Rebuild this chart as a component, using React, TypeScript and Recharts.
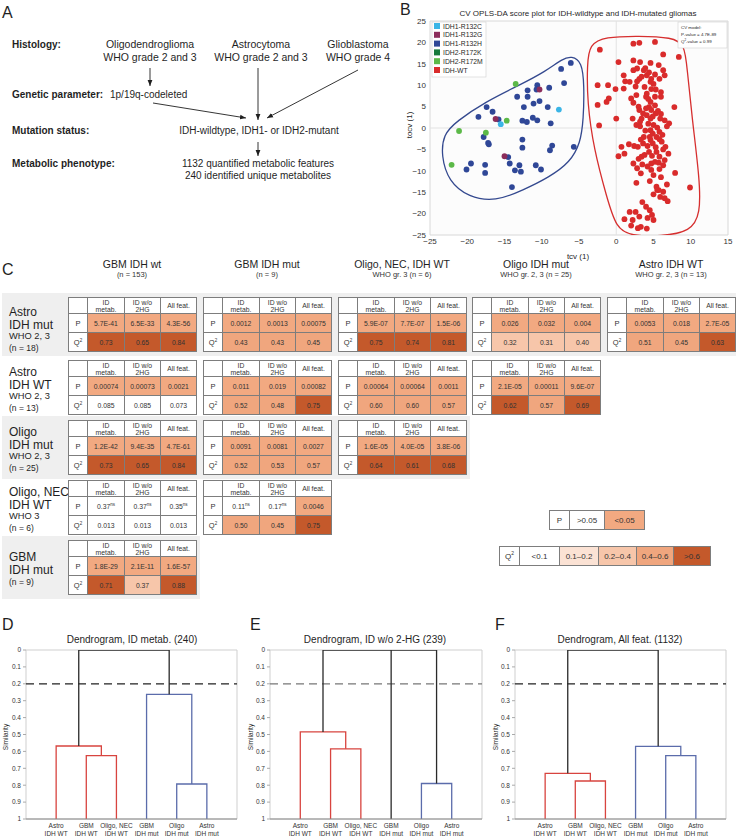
import React from 'react';
import { ComposedChart, Scatter, Line, XAxis, YAxis, ReferenceLine, ReferenceArea } from 'recharts';

const FONT = '"Liberation Sans", Arial, Helvetica, sans-serif';
const INK = '#1f1f1f';

// ---------------- Panel B: CV OPLS-DA scores ----------------
const idh1R132CPairs = [[-7.7, 4.3], [-15.5, 0.9]];
const idh1R132GPairs = [[-10.3, 9.0], [-16.2, 2.1], [-15.0, -6.6]];
const idh1R132HPairs = [
  [-6.1, 15.2], [-7.4, 13.8], [-7.0, 10.5], [-9.0, 9.4], [-10.6, 10.0], [-10.7, 9.0], [-11.9, 8.8],
  [-13.3, 7.3], [-11.9, 7.3], [-10.3, 6.3], [-11.1, 5.7], [-9.2, 4.9], [-12.4, 4.9], [-17.4, 4.9],
  [-18.5, 2.6], [-16.6, 3.8], [-15.8, 2.0], [-12.6, 1.7], [-12.0, 1.4], [-11.2, 2.4], [-10.6, 1.8],
  [-8.8, 1.1], [-17.8, -2.1], [-17.2, -3.5], [-17.1, -3.8], [-12.6, -2.7], [-12.6, -4.6], [-8.6, -4.1],
  [-8.9, -5.2], [-5.7, -4.4], [-14.5, -6.8], [-14.3, -8.3], [-13.0, -8.7], [-10.8, -8.7], [-10.1, -9.7],
  [-13.6, -9.9], [-12.8, -10.2], [-14.0, -13.8], [-19.5, -8.3], [-20.1, -9.7], [-17.6, -8.6], [-17.6, -10.5],
];
const idh2R172KPairs: number[][] = [];
const idh2R172MPairs = [[-13.5, 10.3], [-14.7, 1.7], [-21.1, -0.7], [-17.5, -1.1], [-22.1, -8.6]];
const idhWTPairs = [
  [-2.2, 18.3], [2.3, 19.7], [3.1, 19.9], [5.2, 20.1], [8.4, 16.6], [6.3, 17.2], [0.3, 15.4], [2.3, 15.8],
  [3.2, 15.4], [4.6, 15.2], [5.7, 14.7], [2.8, 13.9], [2.3, 13.5], [3.7, 13.5], [1.0, 12.3], [6.3, 13.5],
  [4.1, 12.3], [5.2, 12.5], [6.5, 12.3], [3.1, 11.5], [4.7, 11.5], [5.8, 11.5], [1.2, 10.9], [1.8, 10.8],
  [2.8, 10.9], [4.6, 10.8], [-2.5, 10.0], [-1.1, 10.0], [-0.1, 9.1], [4.7, 9.1], [1.0, 9.2], [4.1, 8.0],
  [6.0, 8.4], [4.0, 7.3], [2.7, 7.7], [2.0, 6.9], [5.2, 7.3], [6.0, 7.3], [-1.0, 6.9], [-1.3, 6.1],
  [-2.5, 5.4], [2.3, 5.9], [4.6, 6.1], [5.2, 5.3], [7.8, 4.9], [4.4, 4.9], [4.7, 4.2], [3.1, 4.2],
  [5.3, 3.4], [4.1, 3.0], [0.0, 2.2], [2.2, 2.2], [3.4, 2.2], [4.6, 2.2], [5.9, 2.2], [6.5, 1.8],
  [-2.3, 0.6], [2.7, 0.7], [3.2, 0.4], [5.0, 0.7], [7.1, 1.1], [6.8, 0.4], [4.6, -0.5], [5.8, -0.9],
  [3.7, -2.1], [4.5, -2.1], [5.4, -2.1], [4.6, -2.8], [4.9, -3.6], [6.1, -3.2], [6.6, -4.4], [3.6, -3.6],
  [1.7, -3.8], [2.4, -4.2], [2.9, -4.4], [0.7, -4.4], [1.1, -6.0], [0.3, -6.6], [3.4, -6.7], [3.8, -6.3],
  [4.4, -5.6], [5.4, -5.6], [5.8, -6.7], [7.0, -6.0], [2.3, -8.3], [3.5, -8.5], [4.7, -8.3], [5.2, -7.9],
  [5.7, -8.1], [6.3, -8.7], [2.8, -9.4], [4.7, -9.8], [7.9, -10.5], [2.7, -12.8], [5.0, -11.0], [5.4, -13.7],
  [5.7, -14.5], [6.3, -14.9], [9.9, -13.9], [5.9, -16.1], [6.5, -16.4], [6.9, -17.1], [4.0, -18.4], [4.5, -19.2],
  [1.8, -19.6], [2.6, -19.6], [3.1, -20.7], [2.2, -21.5], [4.8, -20.3], [5.0, -21.5], [1.1, -21.3], [2.9, -23.4],
  [3.3, -23.1], [4.1, -23.5], [5.5, -14.5],
  [3.9, 14.0], [4.4, 13.0], [3.4, 12.0], [5.0, 10.3], [2.6, 9.7], [3.8, 9.6], [5.3, 9.0], [4.3, 6.8],
  [3.0, 5.0], [4.0, 4.6], [5.6, 4.0], [3.6, 3.4], [4.9, 2.7], [6.0, 3.3], [3.2, 1.5], [4.3, 1.0],
  [5.5, 0.1], [3.9, -0.6], [4.9, -1.3], [6.2, -1.6], [3.3, -2.7], [5.8, -2.6], [4.2, -4.2], [5.3, -4.5],
  [6.3, -5.0], [4.8, -6.5], [3.0, -7.2], [6.5, -7.5], [4.2, -9.0], [5.8, -9.6], [3.3, -10.6], [6.0, -11.5],
  [4.5, -12.4], [6.8, -13.2], [5.0, -15.5], [3.5, -17.3], [4.2, -21.0], [2.0, -22.8],
];
const mutantHullPairs = [
  [-6.0, 16.8], [-4.6, 15.5], [-4.3, 10.0], [-4.4, 2.0], [-4.8, -3.5], [-6.2, -8.0], [-9.0, -11.5],
  [-12.5, -14.5], [-16.2, -17.2], [-19.8, -16.2], [-22.5, -12.5], [-23.5, -6.5], [-23.2, -1.5],
  [-21.5, 1.5], [-17.5, 6.2], [-13.0, 10.0], [-9.5, 13.2], [-7.2, 16.2],
];
const wildtypeHullPairs = [
  [-3.6, 19.5], [-1.5, 21.3], [3.0, 21.5], [7.5, 21.2], [9.2, 19.5], [9.5, 14.0], [10.2, 2.0],
  [11.2, -12.0], [11.3, -20.0], [10.0, -24.2], [6.0, -25.3], [2.0, -25.2], [0.0, -23.5], [-1.3, -16.0],
  [-3.0, -5.0], [-3.9, 6.0], [-3.9, 15.0],
];
const scoreTicksX = [-25, -20, -15, -10, -5, 0, 5, 10, 15];
const scoreTicksY = [-25, -20, -15, -10, -5, 0, 5, 10, 15, 20, 25];

const toPoints = (pairs: number[][]) => pairs.map(([x, y]) => ({ x, y }));

const scatterSeries = [
  { name: 'IDH1-R132C', color: '#3bb5e6', data: toPoints(idh1R132CPairs) },
  { name: 'IDH1-R132G', color: '#8c2d5b', data: toPoints(idh1R132GPairs) },
  { name: 'IDH1-R132H', color: '#2f4797', data: toPoints(idh1R132HPairs) },
  { name: 'IDH2-R172K', color: '#167a3b', data: toPoints(idh2R172KPairs) },
  { name: 'IDH2-R172M', color: '#5cb948', data: toPoints(idh2R172MPairs) },
  { name: 'IDH-WT', color: '#d92b2b', data: toPoints(idhWTPairs) },
];
const scatterDrawOrder = ['IDH-WT', 'IDH1-R132H', 'IDH2-R172K', 'IDH2-R172M', 'IDH1-R132G', 'IDH1-R132C'];

// ---------------- Panel C: pairwise model tables ----------------
const comparisonTitles = ['GBM IDH wt', 'GBM IDH mut', 'Oligo, NEC, IDH WT', 'Oligo IDH mut', 'Astro IDH WT'];
const comparisonSubtitles = ['(n = 153)', '(n = 9)', 'WHO gr. 3 (n = 6)', 'WHO gr. 2, 3 (n = 25)', 'WHO gr. 2, 3 (n = 13)'];
const rowGroupLabels = [
  ['Astro', 'IDH mut', 'WHO 2, 3', '(n = 18)'],
  ['Astro', 'IDH WT', 'WHO 2, 3', '(n = 13)'],
  ['Oligo', 'IDH mut', 'WHO 2, 3', '(n = 25)'],
  ['Oligo, NEC', 'IDH WT', 'WHO 3', '(n = 6)'],
  ['GBM', 'IDH mut', '(n = 9)'],
];
const featureSets = [['ID', 'metab.'], ['ID w/o', '2HG'], ['All feat.']];
const pValues = [
  [['5.7E-41', '6.5E-33', '4.3E-56'], ['0.0012', '0.0013', '0.00075'], ['5.9E-07', '7.7E-07', '1.5E-06'], ['0.026', '0.032', '0.004'], ['0.0053', '0.018', '2.7E-05']],
  [['0.00074', '0.00073', '0.0021'], ['0.011', '0.019', '0.00082'], ['0.00064', '0.00064', '0.0011'], ['2.1E-05', '0.00011', '9.6E-07']],
  [['1.2E-42', '9.4E-35', '4.7E-61'], ['0.0091', '0.0081', '0.0027'], ['1.6E-05', '4.0E-05', '3.8E-06']],
  [['0.37ns', '0.37ns', '0.35ns'], ['0.11ns', '0.17ns', '0.0046']],
  [['1.8E-29', '2.1E-11', '1.6E-57']],
];
const q2Values = [
  [['0.73', '0.65', '0.84'], ['0.43', '0.43', '0.45'], ['0.75', '0.74', '0.81'], ['0.32', '0.31', '0.40'], ['0.51', '0.45', '0.63']],
  [['0.085', '0.085', '0.073'], ['0.52', '0.48', '0.75'], ['0.60', '0.60', '0.57'], ['0.62', '0.57', '0.69']],
  [['0.73', '0.65', '0.84'], ['0.52', '0.53', '0.57'], ['0.64', '0.61', '0.68']],
  [['0.013', '0.013', '0.013'], ['0.50', '0.45', '0.75']],
  [['0.71', '0.37', '0.88']],
];
const pLegend = ['>0.05', '<0.05'];
const q2Legend = ['<0.1', '0.1\u20130.2', '0.2\u20130.4', '0.4\u20130.6', '>0.6'];

const P_SIG = '#f2a981';
const Q2_COLORS = ['#ffffff', '#fbe2d4', '#f7c6aa', '#f0a67e', '#c4592b'];
const pColor = (v: string) => (parseFloat(v) < 0.05 ? P_SIG : '#ffffff');
const q2Class = (v: number) => (v < 0.1 ? 0 : v < 0.2 ? 1 : v <= 0.4 ? 2 : v <= 0.6 ? 3 : 4);

// ---------------- Panels D-F: dendrograms ----------------
const leafLabels = [['Astro', 'IDH WT'], ['GBM', 'IDH WT'], ['Oligo, NEC', 'IDH WT'], ['GBM', 'IDH mut'], ['Oligo', 'IDH mut'], ['Astro', 'IDH mut']];
const leafTicks = [1, 2, 3, 4, 5, 6];
const similarityTicks = [0, 0.1, 0.2, 0.3, 0.4, 0.5, 0.6, 0.7, 0.8, 0.9, 1];
// merge: [leftX, leftSimilarity, rightX, rightSimilarity, mergeSimilarity, cluster]
const mergesIdMetab = [
  [2, 1, 3, 1, 0.625, 'wt'], [1, 1, 2.5, 0.625, 0.568, 'wt'],
  [5, 1, 6, 1, 0.793, 'mut'], [4, 1, 5.5, 0.793, 0.262, 'mut'],
  [1.75, 0.568, 4.75, 0.262, 0, 'root'],
];
const mergesNo2HG = [
  [2, 1, 3, 1, 0.585, 'wt'], [1, 1, 2.5, 0.585, 0.485, 'wt'],
  [5, 1, 6, 1, 0.79, 'mut'],
  [1.75, 0.485, 5.5, 0.79, 0, 'root'], [4, 1, 4, 1, 0, 'root'],
];
const mergesAllFeat = [
  [2, 1, 3, 1, 0.775, 'wt'], [1, 1, 2.5, 0.775, 0.73, 'wt'],
  [5, 1, 6, 1, 0.625, 'mut'], [4, 1, 5.5, 0.625, 0.57, 'mut'],
  [1.75, 0.73, 4.75, 0.57, 0, 'root'],
];
const clusterColors: Record<string, string> = { wt: '#d8443f', mut: '#5b6cab', root: '#2a2a2a' };

const fmtSigned = (v: number) => (v < 0 ? '\u2212' + Math.abs(v) : String(v));

function ScorePlot() {
  const tickStyle = { fontSize: 8, fill: '#333', fontFamily: FONT };
  return (
    <div style={{ position: 'absolute', left: 370, top: 0 }}>
      <ComposedChart width={366} height={262} margin={{ top: 21, right: 8, bottom: 7, left: 36 }}>
        <XAxis type="number" dataKey="x" domain={[-25, 15]} ticks={scoreTicksX} interval={0} allowDataOverflow
          tickLine={false} tickSize={0} axisLine={false} tick={tickStyle} tickFormatter={fmtSigned} height={20} tickMargin={3} />
        <YAxis type="number" dataKey="y" domain={[-25, 25]} ticks={scoreTicksY} interval={0} allowDataOverflow
          tickLine={false} tickSize={0} axisLine={false} tick={tickStyle} tickFormatter={fmtSigned} width={24} tickMargin={4} />
        <ReferenceArea x1={-25} x2={15} y1={-25} y2={25} fill="none" stroke="#d8d8d8" />
        <ReferenceLine x={0} stroke="#e2e2e2" />
        <ReferenceLine y={0} stroke="#e2e2e2" />
        {scatterDrawOrder.map((n) => {
          const s = scatterSeries.find((q) => q.name === n)!;
          return (
            <Scatter key={s.name} name={s.name} data={s.data} fill={s.color} isAnimationActive={false}
              shape={(p: any) => <circle cx={p.cx} cy={p.cy} r={2.9} fill={s.color} />} />
          );
        })}
        <Line data={toPoints(mutantHullPairs)} dataKey="y" type="basisClosed" stroke="#34498f" strokeWidth={1.3}
          dot={false} activeDot={false} isAnimationActive={false} />
        <Line data={toPoints(wildtypeHullPairs)} dataKey="y" type="basisClosed" stroke="#d62f2f" strokeWidth={1.3}
          dot={false} activeDot={false} isAnimationActive={false} />
      </ComposedChart>
    </div>
  );
}

function LeafTick(props: any) {
  const { x, y, payload } = props;
  const lines = leafLabels[Math.round(payload.value) - 1] || [];
  return (
    <text x={x} y={y} textAnchor="middle" fontSize={6.5} fill="#333" fontFamily={FONT}>
      {lines.map((l, i) => (
        <tspan key={i} x={x} dy={i === 0 ? 7.2 : 7.4}>{l}</tspan>
      ))}
    </text>
  );
}

function Dendrogram({ left, width, plotLeft, plotRight, merges, dashColor }: any) {
  const ml = plotLeft - left - 20;
  const mr = left + width - plotRight;
  return (
    <div style={{ position: 'absolute', left, top: 640 }}>
      <ComposedChart width={width} height={198} margin={{ top: 10, right: mr, bottom: 0, left: ml }}>
        <XAxis type="number" dataKey="x" domain={[0, 7]} ticks={leafTicks} interval={0} allowDataOverflow
          tickLine={false} tickSize={0} tickMargin={2} tick={(p: any) => <LeafTick {...p} />}
          axisLine={{ stroke: '#8a8a8a' }} height={19} />
        <YAxis type="number" dataKey="y" domain={[0, 1]} reversed ticks={similarityTicks} interval={0} allowDataOverflow
          width={20} tickSize={3} tickMargin={2} tickLine={{ stroke: '#aaa' }} axisLine={false}
          tick={{ fontSize: 6.5, fill: '#333', fontFamily: FONT }} tickFormatter={(v: number) => String(Math.round(v * 10) / 10)} />
        <ReferenceArea x1={0} x2={7} y1={0} y2={1} fill="none" stroke="#cfcfcf" />
        <ReferenceLine y={0.2} stroke={dashColor} strokeDasharray="8 5" strokeWidth={1.3} />
        {merges.map((m: any[], i: number) => {
          const [x1, h1, x2, h2, h, c] = m;
          const pts = x1 === x2 ? [{ x: x1, y: h1 }, { x: x1, y: h }] : [{ x: x1, y: h1 }, { x: x1, y: h }, { x: x2, y: h }, { x: x2, y: h2 }];
          return (
            <Line key={i} data={pts} dataKey="y" type="linear" stroke={clusterColors[c]} strokeWidth={1.3}
              dot={false} activeDot={false} isAnimationActive={false} />
          );
        })}
      </ComposedChart>
    </div>
  );
}

function CompTable({ left, top, p, q }: any) {
  const cell: React.CSSProperties = { border: '1px solid #7d7d7d', padding: 0, textAlign: 'center', fontSize: 6.8, color: '#333', lineHeight: '7px', background: '#fff' };
  return (
    <table style={{ position: 'absolute', left, top, width: 128, height: 54, borderCollapse: 'collapse', tableLayout: 'fixed', fontFamily: FONT }}>
      <colgroup>
        <col style={{ width: 19 }} /><col style={{ width: 37 }} /><col style={{ width: 36 }} /><col style={{ width: 36 }} />
      </colgroup>
      <tbody>
        <tr style={{ height: 16 }}>
          <td style={cell} />
          {featureSets.map((f, i) => (
            <td key={i} style={cell}>{f.map((l, j) => <div key={j}>{l}</div>)}</td>
          ))}
        </tr>
        <tr style={{ height: 19 }}>
          <td style={{ ...cell, fontSize: 7.5 }}>P</td>
          {p.map((v: string, i: number) => {
            const ns = v.endsWith('ns');
            return (
              <td key={i} style={{ ...cell, background: pColor(v) }}>
                {ns ? v.slice(0, -2) : v}
                {ns ? <sup style={{ fontSize: 4.5, lineHeight: 0 }}>ns</sup> : null}
              </td>
            );
          })}
        </tr>
        <tr style={{ height: 19 }}>
          <td style={{ ...cell, fontSize: 7.5 }}>Q<sup style={{ fontSize: 4.5, lineHeight: 0 }}>2</sup></td>
          {q.map((v: string, i: number) => (
            <td key={i} style={{ ...cell, background: Q2_COLORS[q2Class(parseFloat(v))] }}>{v}</td>
          ))}
        </tr>
      </tbody>
    </table>
  );
}

function LegendRow({ left, top, label, items, colors, widths }: any) {
  const cell: React.CSSProperties = { border: '1px solid #7d7d7d', padding: 0, textAlign: 'center', fontSize: 8, color: '#333' };
  return (
    <table style={{ position: 'absolute', left, top, height: 20, borderCollapse: 'collapse', tableLayout: 'fixed', fontFamily: FONT }}>
      <tbody>
        <tr>
          <td style={{ ...cell, width: 19, background: '#fff' }}>{label}</td>
          {items.map((t: string, i: number) => (
            <td key={i} style={{ ...cell, width: widths[i], background: colors[i] }}>{t}</td>
          ))}
        </tr>
      </tbody>
    </table>
  );
}

const tableLefts = [68, 203, 338, 472, 607];
const tableTops = [297, 360, 420, 480, 540];

function Arrow({ x1, y1, x2, y2 }: any) {
  return <line x1={x1} y1={y1} x2={x2} y2={y2} stroke={INK} strokeWidth={0.9} markerEnd="url(#ah)" />;
}

export default function App() {
  const labelFont = { fontFamily: FONT, fill: INK } as any;
  return (
    <div style={{ position: 'absolute', left: 0, top: 0, width: 736, height: 838, background: '#fff', overflow: 'hidden', fontFamily: FONT, color: INK }}>
      {/* Panel B plot background */}
      <div style={{ position: 'absolute', left: 430, top: 21, width: 298, height: 214, background: '#fcfcfc' }} />

      {/* Panel C row backgrounds, labels and tables */}
      {rowGroupLabels.map((lines, r) => {
        const n = pValues[r].length;
        const top = tableTops[r];
        const right = Math.min(tableLefts[n - 1] + 128 + 4, 736);
        const sizes = lines.length === 4 ? [12, 12, 9.3, 8.5] : [12, 12, 8.5];
        const lhs = lines.length === 4 ? [13, 12, 11.5, 11.5] : [12.5, 12.5, 12.5];
        const blockH = lhs.reduce((a, b) => a + b, 0);
        const shift = r === 0 ? 6 : 3;
        return (
          <React.Fragment key={r}>
            {r % 2 === 0 ? (
              <div style={{ position: 'absolute', left: 2, top: top - 4, width: right - 2, height: 63, background: '#efefef' }} />
            ) : null}
            <div style={{ position: 'absolute', left: 9, top: top + 27 - blockH / 2 + shift }}>
              {lines.map((l, i) => (
                <div key={i} style={{ fontSize: sizes[i], lineHeight: lhs[i] + 'px', whiteSpace: 'nowrap', color: INK }}>{l}</div>
              ))}
            </div>
            {pValues[r].map((p, c) => (
              <CompTable key={c} left={tableLefts[c]} top={top} p={p} q={q2Values[r][c]} />
            ))}
          </React.Fragment>
        );
      })}
      {comparisonTitles.map((t, c) => (
        <div key={c} style={{ position: 'absolute', left: tableLefts[c] - 30, width: 188, top: 258, textAlign: 'center' }}>
          <div style={{ fontSize: 10.5, lineHeight: '12px' }}>{t}</div>
          <div style={{ fontSize: 7.5, lineHeight: '10px', color: '#333' }}>{comparisonSubtitles[c]}</div>
        </div>
      ))}
      <LegendRow left={549} top={510} label="P" items={pLegend} colors={['#fff', P_SIG]} widths={[34, 39]} />
      <LegendRow left={499} top={546} label={<span>Q<sup style={{ fontSize: 5, lineHeight: 0 }}>2</sup></span>} items={q2Legend} colors={Q2_COLORS} widths={[39, 38, 37, 36, 36]} />

      <ScorePlot />
      <Dendrogram left={0} width={245} plotLeft={26} plotRight={237} merges={mergesIdMetab} dashColor="#222" />
      <Dendrogram left={245} width={245} plotLeft={270} plotRight={482} merges={mergesNo2HG} dashColor="#777" />
      <Dendrogram left={490} width={246} plotLeft={515} plotRight={726} merges={mergesAllFeat} dashColor="#222" />

      <svg width={736} height={838} style={{ position: 'absolute', left: 0, top: 0, pointerEvents: 'none' }}>
        <defs>
          <marker id="ah" viewBox="0 0 10 10" refX="10" refY="5" markerWidth="6" markerHeight="6" orient="auto-start-reverse" markerUnits="userSpaceOnUse">
            <path d="M0,1 L10,5 L0,9 z" fill={INK} />
          </marker>
        </defs>
        {/* Panel letters */}
        <text x={2} y={18} fontSize={16} {...labelFont}>A</text>
        <text x={400} y={15} fontSize={16} {...labelFont}>B</text>
        <text x={2} y={275} fontSize={16} {...labelFont}>C</text>
        <text x={2} y={630} fontSize={16} {...labelFont}>D</text>
        <text x={250} y={630} fontSize={16} {...labelFont}>E</text>
        <text x={495} y={630} fontSize={16} {...labelFont}>F</text>

        {/* Panel A */}
        <g fontSize={10} {...labelFont} dominantBaseline="central">
          <text x={12} y={44} fontWeight="bold">Histology:</text>
          <text x={12} y={94} fontWeight="bold">Genetic parameter:</text>
          <text x={12} y={130} fontWeight="bold">Mutation status:</text>
          <text x={12} y={163} fontWeight="bold">Metabolic phenotype:</text>
        </g>
        <g fontSize={10.5} {...labelFont} dominantBaseline="central" textAnchor="middle">
          <text x={150} y={44}>Oligodendroglioma</text>
          <text x={150} y={57}>WHO grade 2 and 3</text>
          <text x={261} y={44}>Astrocytoma</text>
          <text x={261} y={57}>WHO grade 2 and 3</text>
          <text x={358} y={44}>Glioblastoma</text>
          <text x={358} y={57}>WHO grade 4</text>
        </g>
        <g fontSize={10} {...labelFont} dominantBaseline="central">
          <text x={110} y={94}>1p/19q-codeleted</text>
          <text x={259} y={130} textAnchor="middle">IDH-wildtype, IDH1- or IDH2-mutant</text>
          <text x={258} y={163} textAnchor="middle">1132 quantified metabolic features</text>
          <text x={258} y={175} textAnchor="middle">240 identified unique metabolites</text>
        </g>
        <Arrow x1={150} y1={68} x2={150} y2={86} />
        <Arrow x1={258} y1={68} x2={258} y2={120} />
        <Arrow x1={358} y1={70} x2={267} y2={118} />
        <Arrow x1={153} y1={103} x2={246} y2={118} />
        <Arrow x1={258} y1={142} x2={258} y2={156} />

        {/* Panel B annotations */}
        <text x={578} y={13} fontSize={8} textAnchor="middle" dominantBaseline="central" {...labelFont}>
          CV OPLS-DA score plot for IDH-wildtype and IDH-mutated gliomas
        </text>
        <text x={578} y={256} fontSize={8} textAnchor="middle" dominantBaseline="central" {...labelFont}>tcv (1)</text>
        <text x={409} y={125} fontSize={8} textAnchor="middle" dominantBaseline="central" transform="rotate(-90 409 125)" {...labelFont}>tocv (1)</text>
        <rect x={432} y={22} width={54} height={55} fill="#fff" stroke="#d0d0d0" strokeWidth={0.6} />
        {scatterSeries.map((s, i) => (
          <g key={s.name}>
            <rect x={434} y={23 + i * 8.8} width={6} height={6} fill={s.color} />
            <text x={443} y={26 + i * 8.8} fontSize={6.8} dominantBaseline="central" {...labelFont}>{s.name}</text>
          </g>
        ))}
        <rect x={678} y={22} width={49} height={26} fill="#fff" stroke="#d0d0d0" strokeWidth={0.6} />
        <g fontSize={4.4} {...labelFont} dominantBaseline="central">
          <text x={681} y={27}>CV model:</text>
          <text x={681} y={34}>P-value = 4.7E-89</text>
          <text x={681} y={41}>Q<tspan dy={-1.5} fontSize={3}>2</tspan><tspan dy={1.5}>-value = 0.99</tspan></text>
        </g>

        {/* Dendrogram titles and axis labels */}
        <g fontSize={10} {...labelFont} textAnchor="middle" dominantBaseline="central">
          <text x={132} y={639}>Dendrogram, ID metab. (240)</text>
          <text x={375} y={639}>Dendrogram, ID w/o 2-HG (239)</text>
          <text x={620} y={639}>Dendrogram, All feat. (1132)</text>
        </g>
        <g fontSize={6.5} {...labelFont} textAnchor="middle" dominantBaseline="central">
          <text x={5} y={737} transform="rotate(-90 5 737)">Similarity</text>
          <text x={250} y={737} transform="rotate(-90 250 737)">Similarity</text>
          <text x={495} y={737} transform="rotate(-90 495 737)">Similarity</text>
        </g>
      </svg>
    </div>
  );
}
